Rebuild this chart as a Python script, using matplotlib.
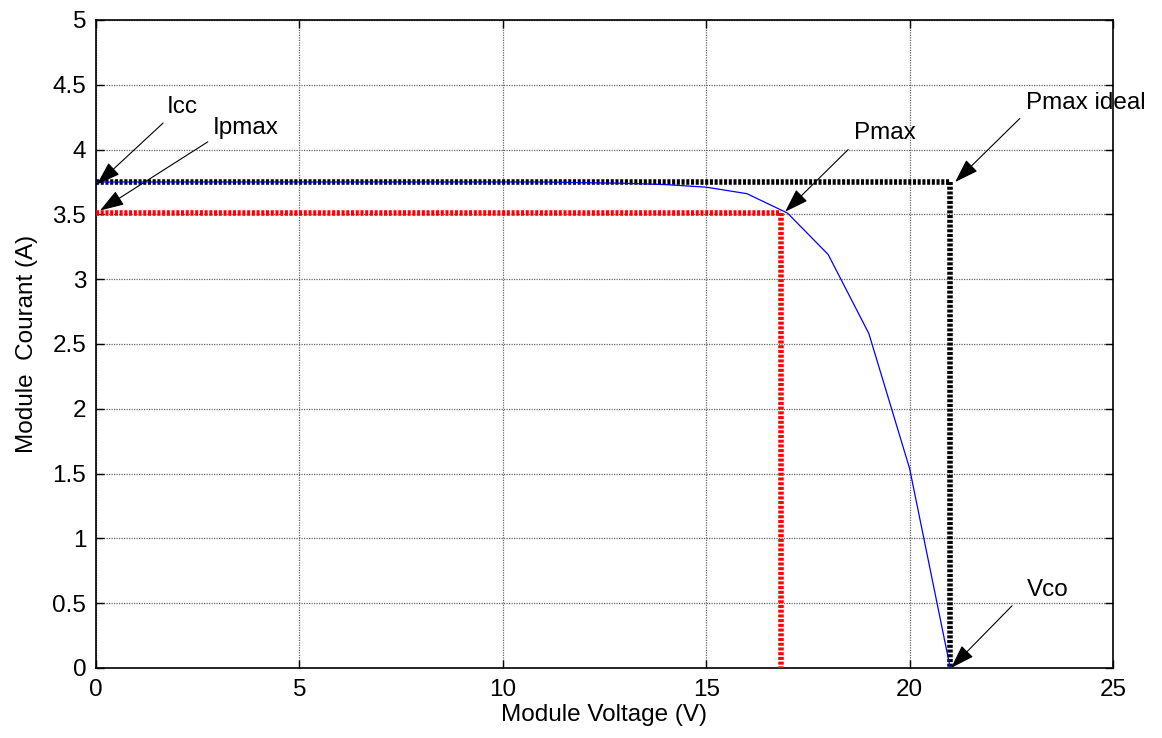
import matplotlib
matplotlib.use('Agg')
import matplotlib.pyplot as plt

plt.rcParams['font.family'] = ['Liberation Sans', 'DejaVu Sans']

# I-V curve of the module
voltage = [0, 1, 2, 3, 4, 5, 6, 7, 8, 9, 10, 11, 12, 13, 14, 15, 16, 17, 18, 19, 20, 21]
current = [3.75, 3.75, 3.75, 3.75, 3.75, 3.75, 3.75, 3.75, 3.75, 3.75, 3.75, 3.75,
           3.745, 3.74, 3.73, 3.71, 3.66, 3.51, 3.19, 2.58, 1.54, 0.0]

# reference points
icc = 3.75
vco = 21.0
ipmax = 3.51
vpmax = 16.85

# annotations: label, text position, arrow tail, arrow tip
labels = ['Icc', 'Ipmax', 'Pmax', 'Pmax ideal', 'Vco']
text_pos = [(2.11, 4.33), (3.69, 4.17), (19.4, 4.13), (24.34, 4.36), (23.4, 0.6)]
tails = [(1.65, 4.205), (2.75, 4.06), (18.49, 4.0), (22.71, 4.24), (22.52, 0.48)]
tips = [(0.02, 3.73), (0.1, 3.53), (16.94, 3.52), (21.12, 3.75), (21.02, 0.0)]

fs = 17.5
dots = (0, (0.55, 0.3))

fig = plt.figure(figsize=(11.62, 7.38), dpi=100)
ax = fig.add_axes([0.0826, 0.0949, 0.9578 - 0.0826, 0.9729 - 0.0949])

ax.plot([0, vco], [icc, icc], color='black', linestyle=dots, linewidth=4,
        dash_capstyle='butt', zorder=3)
ax.plot([vco, vco], [icc, 0], color='black', linestyle=dots, linewidth=4,
        dash_capstyle='butt', zorder=3)
ax.plot([0, vpmax], [ipmax, ipmax], color='red', linestyle=dots, linewidth=4,
        dash_capstyle='butt', zorder=3)
ax.plot([vpmax, vpmax], [ipmax, 0], color='red', linestyle=dots, linewidth=4,
        dash_capstyle='butt', zorder=3)
ax.plot(voltage, current, color='blue', linewidth=0.9, zorder=4)

for lab, tp, tl, tip in zip(labels, text_pos, tails, tips):
    ax.annotate('', xy=tip, xytext=tl,
                arrowprops=dict(arrowstyle='-|>,head_length=1.5,head_width=0.5',
                                color='black', lw=0.8, shrinkA=0, shrinkB=0),
                zorder=5)
    ax.text(tp[0], tp[1], lab, fontsize=fs, ha='center', va='center')

ax.set_xlim(0, 25)
ax.set_ylim(0, 5)
ax.set_xticks([0, 5, 10, 15, 20, 25])
ax.set_yticks([0, 0.5, 1, 1.5, 2, 2.5, 3, 3.5, 4, 4.5, 5])
ax.set_yticklabels(['0', '0.5', '1', '1.5', '2', '2.5', '3', '3.5', '4', '4.5', '5'])
ax.tick_params(direction='in', top=True, right=True, labelsize=fs, length=6, width=1)
ax.tick_params(axis='x', pad=8)
ax.tick_params(axis='y', pad=7)
ax.grid(True, color='0.4', linestyle=(0, (1, 1)), linewidth=0.9)
for sp in ax.spines.values():
    sp.set_linewidth(1.2)

ax.set_xlabel('Module Voltage (V)', fontsize=fs, labelpad=2)
ax.set_ylabel('Module  Courant (A)', fontsize=fs, labelpad=10)

fig.savefig('out.png', dpi=100)
